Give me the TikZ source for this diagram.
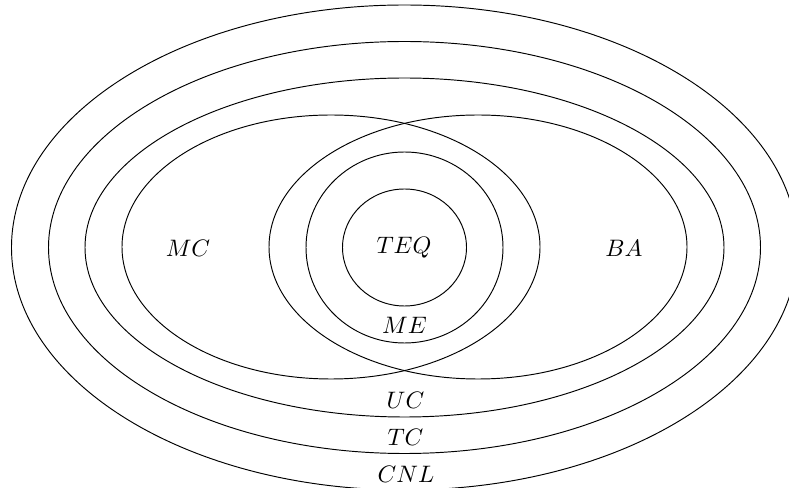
\documentclass[tikz,border=0pt]{standalone}
\usepackage{tikz}
\usetikzlibrary{shapes.geometric}
\tikzset{venn/.style 2 args={ellipse,draw=black,inner sep=0pt,minimum width=#1*0.42pt,minimum height=#2*0.42pt}}
\tikzset{lbl/.style={anchor=base}}
\usepackage{amsmath,amssymb}

\begin{document}
\begin{tikzpicture}[x=0.42pt,y=-0.42pt]
% \draw[help lines] (0,0) grid (789,488);
\clip (0,0) rectangle (789,488);
\node (cnl) [venn={786}{485}] at (404.5,247.5) {};
\node (tc) [venn={712}{412}] at (404.5,247.5) {};
\node (uc) [venn={639}{339}] at (404.5,247.5) {};
\node (mc) [venn={418}{264}] at (331,247) {};
\node (ba) [venn={418}{264}] at (478,247) {};
\node (me) [venn={197}{191}] at (404.5,247.5) {};
\node (teq) [venn={124}{117}] at (404.5,247.5) {};
%
\node (teqlbl) [lbl] at (404,253.3) {$TEQ$};
\node (mclbl) [lbl] at (188,256.7) {$MC$};
\node (balbl) [lbl] at (624,256.7) {$BA$};
\node (melbl) [lbl] at (404.5,334) {$ME$};
\node (uclbl) [lbl] at (405.5,408.3) {$UC$};
\node (tclbl) [lbl] at (405.5,445.7) {$TC$};
\node (cnllbl) [lbl] at (406,482.3) {$CNL$};
\end{tikzpicture}
\end{document}
